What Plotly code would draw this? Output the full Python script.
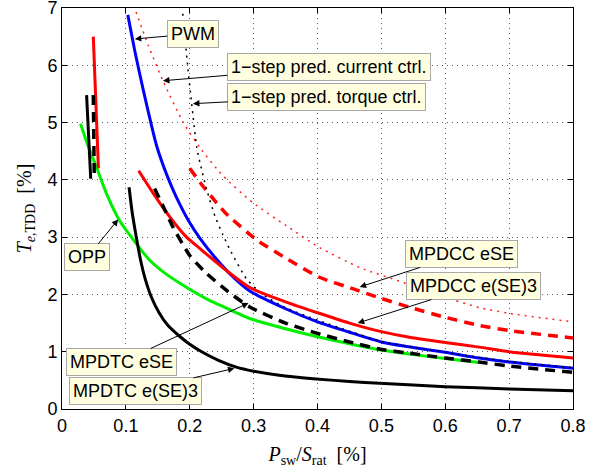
import plotly.graph_objects as go

# ---------------- data ----------------
pwm_x = [0.103, 0.114, 0.127, 0.148, 0.165, 0.179, 0.2, 0.216, 0.24, 0.263, 0.294, 0.35, 0.4, 0.45, 0.5, 0.54, 0.6, 0.653, 0.7, 0.8]
pwm_y = [6.88, 6.25, 5.58, 4.6, 4.06, 3.7, 3.25, 2.98, 2.64, 2.36, 2.06, 1.75, 1.52, 1.34, 1.17, 1.09, 0.99, 0.89, 0.82, 0.71]

cur_x = [0.112, 0.135, 0.158, 0.19, 0.216, 0.252, 0.299, 0.351, 0.403, 0.466, 0.539, 0.6, 0.653, 0.7, 0.8]
cur_y = [7.05, 6.35, 5.73, 5.0, 4.56, 4.07, 3.6, 3.2, 2.82, 2.47, 2.19, 1.95, 1.77, 1.67, 1.52]

trq_x = [0.189, 0.197, 0.203, 0.211, 0.216, 0.226, 0.24, 0.252, 0.263, 0.289, 0.314, 0.35, 0.4, 0.45, 0.5, 0.6, 0.653, 0.7, 0.8]
trq_y = [6.9, 5.96, 5.33, 4.56, 4.3, 3.85, 3.35, 3.04, 2.78, 2.27, 2.0, 1.77, 1.55, 1.36, 1.18, 0.99, 0.9, 0.83, 0.72]

cce_x = [0.2, 0.22, 0.242, 0.257, 0.305, 0.351, 0.403, 0.455, 0.5, 0.549, 0.6, 0.653, 0.7, 0.8]
cce_y = [4.2, 3.9, 3.6, 3.41, 2.95, 2.63, 2.3, 2.1, 1.93, 1.76, 1.6, 1.46, 1.37, 1.24]

cc3_x = [0.12, 0.145, 0.169, 0.195, 0.216, 0.257, 0.294, 0.35, 0.4, 0.45, 0.5, 0.54, 0.6, 0.653, 0.7, 0.8]
cc3_y = [4.16, 3.73, 3.35, 3.0, 2.8, 2.42, 2.12, 1.87, 1.68, 1.5, 1.35, 1.26, 1.16, 1.08, 1.0, 0.89]
cc3s_x = [0.049, 0.057]
cc3s_y = [6.5, 4.2]

tce_x = [0.145, 0.16, 0.174, 0.2, 0.226, 0.26, 0.294, 0.35, 0.4, 0.45, 0.5, 0.54, 0.6, 0.653, 0.7, 0.8]
tce_y = [3.85, 3.5, 3.17, 2.68, 2.37, 2.05, 1.78, 1.5, 1.32, 1.17, 1.04, 0.98, 0.89, 0.82, 0.75, 0.64]
tces_x = [0.049, 0.0505]
tces_y = [5.48, 4.05]

tc3_x = [0.105, 0.11, 0.116, 0.123, 0.13, 0.14, 0.152, 0.165, 0.184, 0.2, 0.22, 0.245, 0.273, 0.3, 0.34, 0.393, 0.45, 0.497, 0.6, 0.7, 0.8]
tc3_y = [3.87, 3.42, 3.02, 2.6, 2.28, 1.95, 1.68, 1.47, 1.27, 1.13, 0.99, 0.85, 0.73, 0.66, 0.59, 0.53, 0.48, 0.45, 0.39, 0.35, 0.32]
tc3s_x = [0.0385, 0.045]
tc3s_y = [5.48, 4.02]

opp_x = [0.029, 0.04, 0.054, 0.07, 0.09, 0.11, 0.137, 0.16, 0.184, 0.23, 0.25, 0.294, 0.35, 0.4, 0.45, 0.5, 0.55, 0.6, 0.653]
opp_y = [4.98, 4.62, 4.22, 3.75, 3.29, 2.98, 2.6, 2.38, 2.2, 1.9, 1.8, 1.58, 1.4, 1.26, 1.14, 1.03, 0.95, 0.88, 0.81]

x_ticks = [0, 0.1, 0.2, 0.3, 0.4, 0.5, 0.6, 0.7, 0.8]
x_labels = ["0", "0.1", "0.2", "0.3", "0.4", "0.5", "0.6", "0.7", "0.8"]
y_ticks = [0, 1, 2, 3, 4, 5, 6, 7]
y_labels = ["0", "1", "2", "3", "4", "5", "6", "7"]

# annotation: text, head x, head y, offset ax, ay (pixels)
ann_text = ["PWM", "1\u2212step pred. current ctrl.", "1\u2212step pred. torque ctrl.", "OPP",
            "MPDTC eSE", "MPDTC e(SE)3", "MPDCC eSE", "MPDCC e(SE)3"]
ann_x = [0.114, 0.158, 0.205, 0.088, 0.292, 0.270, 0.466, 0.463]
ann_y = [6.46, 5.73, 5.33, 3.31, 1.85, 0.71, 2.13, 1.50]
ann_ax = [58, 166, 134, -31, -127, -99, 102, 116]
ann_ay = [-5, -14, -7, 38, 59, 23, -33, -37]

# ---------------- figure ----------------
fig = go.Figure()

def add(x, y, color, width=3, dash="solid"):
    fig.add_trace(go.Scatter(x=x, y=y, mode="lines", line=dict(color=color, width=width, dash=dash,
                                                                shape="spline", smoothing=0.6),
                             showlegend=False, hoverinfo="skip"))

add(cur_x, cur_y, "#ff2020", 1.5, "2px,5px")
add(cce_x, cce_y, "#ff0000", 3.5, "10px,7px")
add(opp_x, opp_y, "#00ee00", 3)
add(pwm_x, pwm_y, "#0000ff", 3)
add(trq_x, trq_y, "#000000", 1.5, "2px,5px")
add(cc3_x, cc3_y, "#ff0000", 3)
add(cc3s_x, cc3s_y, "#ff0000", 3)
add(tce_x, tce_y, "#000000", 3.5, "10px,7px")
add(tces_x, tces_y, "#000000", 3.5, "10px,7px")
add(tc3_x, tc3_y, "#000000", 3)
add(tc3s_x, tc3s_y, "#000000", 3)

for t, x, y, ax, ay in zip(ann_text, ann_x, ann_y, ann_ax, ann_ay):
    fig.add_annotation(x=x, y=y, xref="x", yref="y", ax=ax, ay=ay, text=t,
                       showarrow=True, arrowhead=2, arrowsize=1.3, arrowwidth=1, arrowcolor="black",
                       font=dict(family="Liberation Sans", size=18, color="black"),
                       bgcolor="#ffffe0", bordercolor="#a8a8a8", borderwidth=1, borderpad=3)

axis_common = dict(showline=True, linecolor="black", linewidth=1, mirror="ticks",
                   ticks="inside", ticklen=5, tickcolor="black", ticklabeloverflow="allow",
                   showgrid=True, gridcolor="rgba(0,0,0,0.65)", gridwidth=1, griddash="1px,4px",
                   zeroline=False, tickfont=dict(family="Liberation Sans", size=18, color="black"))

fig.update_xaxes(range=[0, 0.8], tickvals=x_ticks, ticktext=x_labels,
                 title=dict(text="<i>P</i><sub>sw</sub>/<i>S</i><sub>rat</sub>  [%]",
                            font=dict(family="Liberation Serif", size=20, color="black"), standoff=12),
                 **axis_common)
fig.update_yaxes(range=[0, 7], tickvals=y_ticks, ticktext=y_labels,
                 title=dict(text="<i>T</i><sub><i>e</i>,TDD</sub>  [%]",
                            font=dict(family="Liberation Serif", size=20, color="black"), standoff=10),
                 **axis_common)

fig.update_layout(width=602, height=476, margin=dict(l=62, r=29, t=8, b=67, autoexpand=False),
                  plot_bgcolor="white", paper_bgcolor="white")

# remove the default page margin so the figure sits at the window's top-left corner
fig.write_html("out.html", config={"displayModeBar": False},
               post_script="document.body.style.margin='0';")
